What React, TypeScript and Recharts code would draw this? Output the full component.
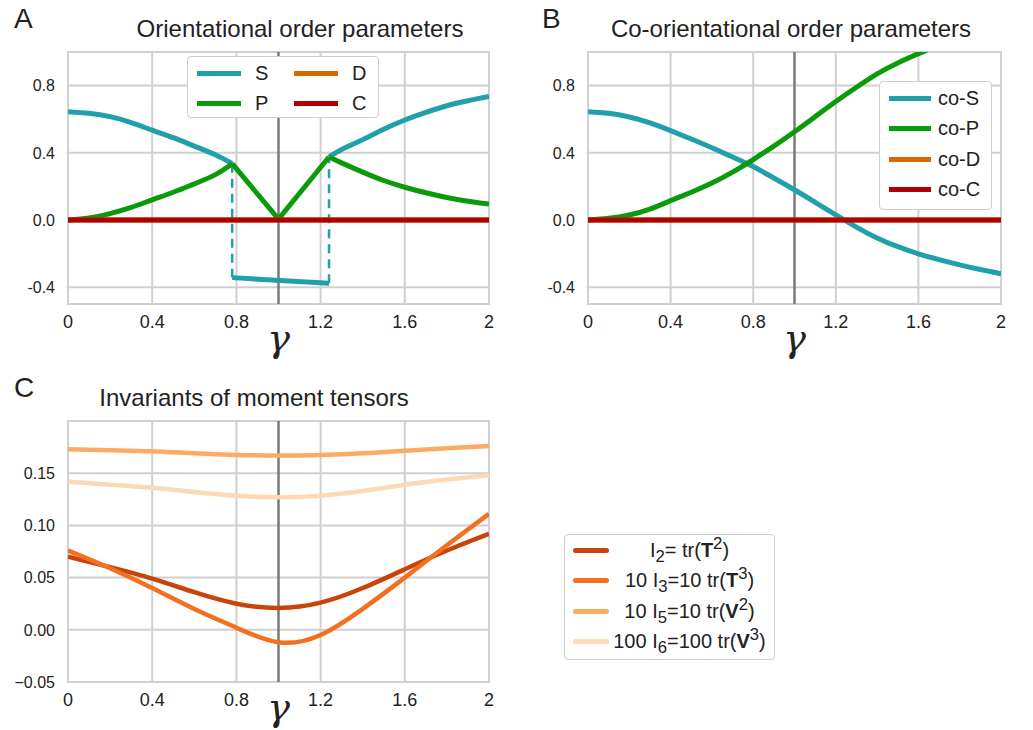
import React from 'react';
import {
  LineChart, Line, XAxis, YAxis, CartesianGrid, ReferenceLine, ReferenceArea, Legend,
} from 'recharts';

const FONT = '"Liberation Sans", Arial, Helvetica, sans-serif';
const GRID = '#d0d0d0';
const TEXT = '#222222';

const gammaTicks = [0, 0.4, 0.8, 1.2, 1.6, 2];
const orderTicks = [-0.4, 0, 0.4, 0.8];
const invariantTicks = [-0.05, 0, 0.05, 0.1, 0.15];

// A: orientational order parameters (S jumps at the two transitions)
const leftGamma = [0, 0.1, 0.2, 0.3, 0.4, 0.5, 0.6, 0.7, 0.78];
const sLeft = [0.645, 0.635, 0.615, 0.58, 0.535, 0.49, 0.44, 0.388, 0.335];
const pLeft = [0, 0.012, 0.038, 0.075, 0.12, 0.165, 0.215, 0.27, 0.335];
const midGamma = [0.78, 1.24];
const sMid = [-0.343, -0.377];
const pVGamma = [0.78, 1.0, 1.24];
const pV = [0.335, 0.005, 0.375];
const rightGamma = [1.24, 1.3, 1.4, 1.5, 1.6, 1.7, 1.8, 1.9, 2.0];
const sRight = [0.375, 0.42, 0.478, 0.54, 0.595, 0.64, 0.68, 0.71, 0.735];
const pRight = [0.375, 0.34, 0.285, 0.235, 0.195, 0.162, 0.134, 0.112, 0.095];
const jumpLeftGamma = [0.78, 0.78];
const jumpLeft = [0.335, -0.343];
const jumpRightGamma = [1.24, 1.24];
const jumpRight = [-0.377, 0.375];
const flatGamma = [0, 2];
const dOrder = [0, 0];
const cOrder = [0, 0];
const orderNames = ['S', 'P', 'D', 'C'];

// B: co-orientational order parameters
const gammaFine = [0, 0.1, 0.2, 0.3, 0.4, 0.5, 0.6, 0.7, 0.8, 0.9, 1.0, 1.1, 1.2, 1.3, 1.4, 1.5, 1.6, 1.7, 1.8, 1.9, 2.0];
const coS = [0.645, 0.635, 0.613, 0.578, 0.532, 0.482, 0.43, 0.375, 0.318, 0.25, 0.18, 0.105, 0.03, -0.042, -0.107, -0.159, -0.201, -0.236, -0.267, -0.295, -0.32];
const coP = [0, 0.01, 0.03, 0.065, 0.115, 0.165, 0.22, 0.285, 0.36, 0.44, 0.525, 0.615, 0.705, 0.79, 0.87, 0.935, 0.99, 1.04, 1.08, 1.11, 1.13];
const coD = [0, 0];
const coC = [0, 0];
const coNames = ['co-S', 'co-P', 'co-D', 'co-C'];

// C: invariants of moment tensors
const gammaC = [0, 0.2, 0.4, 0.6, 0.8, 1.0, 1.2, 1.4, 1.6, 1.8, 2.0];
const inv2 = [0.07, 0.06, 0.049, 0.036, 0.025, 0.021, 0.026, 0.04, 0.058, 0.076, 0.092];
const inv3 = [0.076, 0.059, 0.04, 0.02, 0.002, -0.012, -0.005, 0.02, 0.05, 0.081, 0.111];
const inv5 = [0.173, 0.172, 0.171, 0.169, 0.1675, 0.167, 0.1675, 0.169, 0.1715, 0.174, 0.176];
const inv6 = [0.142, 0.139, 0.136, 0.132, 0.1285, 0.127, 0.1285, 0.133, 0.139, 0.144, 0.148];
const invNames = ['I2', 'I3', 'I5', 'I6'];

const COLORS = {
  s: '#20a0aa',
  p: '#0a9a0a',
  d: '#d46a00',
  c: '#b00000',
  i2: '#c8440a',
  i3: '#f2701e',
  i5: '#fdaa64',
  i6: '#fddab4',
};

const pts = (xs: number[], ys: number[]) => xs.map((x, i) => ({ x, y: ys[i] }));

const invariantLabels = [
  <>I<sub>2</sub>= tr(<b>T</b><sup>2</sup>)</>,
  <>10 I<sub>3</sub>=10 tr(<b>T</b><sup>3</sup>)</>,
  <>10 I<sub>5</sub>=10 tr(<b>V</b><sup>2</sup>)</>,
  <>100 I<sub>6</sub>=100 tr(<b>V</b><sup>3</sup>)</>,
];

function GammaLabel({ viewBox, baseline }: any) {
  if (!viewBox) return null;
  const { x, y, width } = viewBox;
  return (
    <text x={x + width / 2} y={y + baseline} textAnchor="middle"
      fontFamily='"DejaVu Serif", "Liberation Serif", serif' fontStyle="italic" fontSize={38} fill={TEXT}>
      γ
    </text>
  );
}

function XTick({ x, y, payload }: any) {
  return (
    <text x={x} y={y} dy="0.71em" textAnchor="middle" fontFamily={FONT} fontSize={18} fill={TEXT}>
      {String(payload.value)}
    </text>
  );
}

function YTick({ x, y, payload, fmt }: any) {
  return (
    <text x={x} y={y} dy="0.36em" textAnchor="end" fontFamily={FONT} fontSize={16} fill={TEXT}>
      {fmt(payload.value)}
    </text>
  );
}

const legendBox: React.CSSProperties = {
  boxSizing: 'border-box',
  background: '#fff',
  border: '1px solid #cfcfcf',
  borderRadius: 4,
  fontFamily: FONT,
  fontSize: 20,
  color: TEXT,
};

const ordered = (payload: any[], names: string[]) =>
  (payload || [])
    .filter((p: any) => p.type !== 'none' && names.includes(p.value))
    .sort((a: any, b: any) => names.indexOf(a.value) - names.indexOf(b.value));

function OrderLegend({ payload }: any) {
  const items = ordered(payload, orderNames);
  return (
    <div style={{ ...legendBox, width: 192, height: 62, padding: '1px 0 0 9px', display: 'grid',
      gridTemplateRows: 'repeat(2, 30px)', gridTemplateColumns: '97px 80px', gridAutoFlow: 'column' }}>
      {items.map((p: any) => (
        <div key={p.value} style={{ display: 'flex', alignItems: 'center' }}>
          <span style={{ width: 44, height: 5, background: p.color, marginRight: 14 }} />
          <span>{p.value}</span>
        </div>
      ))}
    </div>
  );
}

function CoLegend({ payload }: any) {
  const items = ordered(payload, coNames);
  return (
    <div style={{ ...legendBox, width: 113, height: 129, padding: '1px 0 0 9px' }}>
      {items.map((p: any) => (
        <div key={p.value} style={{ display: 'flex', alignItems: 'center', height: 30.5 }}>
          <span style={{ width: 42, height: 5, background: p.color, marginRight: 7 }} />
          <span>{p.value}</span>
        </div>
      ))}
    </div>
  );
}

function InvariantLegend({ payload }: any) {
  const items = ordered(payload, invNames);
  return (
    <div style={{ ...legendBox, width: 211, height: 126, padding: '0 4px 0 8px' }}>
      {items.map((p: any, i: number) => (
        <div key={p.value} style={{ display: 'flex', alignItems: 'center', height: 30.5 }}>
          <span style={{ width: 36, height: 5, borderRadius: 3, background: p.color, flex: 'none' }} />
          <span style={{ flex: 1, textAlign: 'center', whiteSpace: 'nowrap', lineHeight: '20px' }}>
            {invariantLabels[i]}
          </span>
        </div>
      ))}
    </div>
  );
}

const xAxisProps = (baseline: number) => ({
  type: 'number' as const,
  dataKey: 'x',
  domain: [0, 2],
  ticks: gammaTicks,
  interval: 0 as const,
  allowDataOverflow: true,
  axisLine: false,
  tickLine: false,
  tickSize: 0,
  tickMargin: 11,
  height: 40,
  tick: <XTick />,
  label: <GammaLabel baseline={baseline} />,
});

const yAxisProps = (domain: number[], ticks: number[], fmt: (v: number) => string) => ({
  type: 'number' as const,
  domain,
  ticks,
  interval: 0 as const,
  allowDataOverflow: true,
  axisLine: false,
  tickLine: false,
  tickSize: 0,
  tickMargin: 13,
  width: 60,
  tick: <YTick fmt={fmt} />,
});

const orderFmt = (v: number) => v.toFixed(1);
const invFmt = (v: number) => v.toFixed(2).replace('-', '\u2212');

const heading = (text: string, left: number, top: number, size: number, center = true): React.ReactNode => (
  <div style={{
    position: 'absolute', left, top, fontFamily: FONT, fontSize: size, lineHeight: `${size}px`,
    color: TEXT, whiteSpace: 'nowrap', transform: center ? 'translateX(-50%)' : undefined,
  }}>{text}</div>
);

const lineBase = { dot: false, activeDot: false, isAnimationActive: false, dataKey: 'y' };

export default function App() {
  return (
    <div style={{ position: 'absolute', left: 0, top: 0, width: 1033, height: 730, background: '#fff', overflow: 'hidden' }}>
      {heading('A', 14, 5, 28, false)}
      {heading('B', 542, 5, 28, false)}
      {heading('C', 14, 374, 28, false)}
      {heading('Orientational order parameters', 300, 17, 24)}
      {heading('Co-orientational order parameters', 791, 17, 24)}
      {heading('Invariants of moment tensors', 254, 386, 24)}

      <div style={{ position: 'absolute', left: 0, top: 0 }}>
        <LineChart width={500} height={370} margin={{ top: 52, right: 11, bottom: 26, left: 8 }}>
          <CartesianGrid stroke={GRID} strokeWidth={2} />
          <XAxis {...xAxisProps(47)} />
          <YAxis {...yAxisProps([-0.5, 1], orderTicks, orderFmt)} />
          <ReferenceArea x1={0} x2={2} y1={-0.5} y2={1} fill="none" stroke={GRID} strokeWidth={2} />
          <ReferenceLine x={1} stroke="#7a7a7a" strokeWidth={2.5} />
          <Line {...lineBase} data={pts(jumpLeftGamma, jumpLeft)} type="linear" stroke={COLORS.s} strokeWidth={2.5} strokeDasharray="9 6" legendType="none" />
          <Line {...lineBase} data={pts(jumpRightGamma, jumpRight)} type="linear" stroke={COLORS.s} strokeWidth={2.5} strokeDasharray="9 6" legendType="none" />
          <Line {...lineBase} data={pts(leftGamma, sLeft)} type="natural" stroke={COLORS.s} strokeWidth={5} name="S" />
          <Line {...lineBase} data={pts(midGamma, sMid)} type="linear" stroke={COLORS.s} strokeWidth={5} legendType="none" />
          <Line {...lineBase} data={pts(rightGamma, sRight)} type="natural" stroke={COLORS.s} strokeWidth={5} legendType="none" />
          <Line {...lineBase} data={pts(leftGamma, pLeft)} type="natural" stroke={COLORS.p} strokeWidth={5} name="P" />
          <Line {...lineBase} data={pts(pVGamma, pV)} type="linear" stroke={COLORS.p} strokeWidth={5} legendType="none" />
          <Line {...lineBase} data={pts(rightGamma, pRight)} type="natural" stroke={COLORS.p} strokeWidth={5} legendType="none" />
          <Line {...lineBase} data={pts(flatGamma, dOrder)} type="linear" stroke={COLORS.d} strokeWidth={5} name="D" />
          <Line {...lineBase} data={pts(flatGamma, cOrder)} type="linear" stroke={COLORS.c} strokeWidth={5} name="C" />
          <Legend layout="vertical" align="center" verticalAlign="middle" content={(p: any) => <OrderLegend {...p} />}
            wrapperStyle={{ left: 187, top: 56, width: 192, height: 62 }} />
        </LineChart>
      </div>

      <div style={{ position: 'absolute', left: 500, top: 0 }}>
        <LineChart width={533} height={370} margin={{ top: 52, right: 32, bottom: 26, left: 28 }}>
          <CartesianGrid stroke={GRID} strokeWidth={2} />
          <XAxis {...xAxisProps(47)} />
          <YAxis {...yAxisProps([-0.5, 1], orderTicks, orderFmt)} />
          <ReferenceArea x1={0} x2={2} y1={-0.5} y2={1} fill="none" stroke={GRID} strokeWidth={2} />
          <ReferenceLine x={1} stroke="#7a7a7a" strokeWidth={2.5} />
          <Line {...lineBase} data={pts(gammaFine, coS)} type="natural" stroke={COLORS.s} strokeWidth={5} name="co-S" />
          <Line {...lineBase} data={pts(gammaFine, coP)} type="natural" stroke={COLORS.p} strokeWidth={5} name="co-P" />
          <Line {...lineBase} data={pts(flatGamma, coD)} type="linear" stroke={COLORS.d} strokeWidth={5} name="co-D" />
          <Line {...lineBase} data={pts(flatGamma, coC)} type="linear" stroke={COLORS.c} strokeWidth={5} name="co-C" />
          <Legend layout="vertical" align="center" verticalAlign="middle" content={(p: any) => <CoLegend {...p} />}
            wrapperStyle={{ left: 379, top: 81, width: 113, height: 129 }} />
        </LineChart>
      </div>

      <div style={{ position: 'absolute', left: 0, top: 360 }}>
        <LineChart width={800} height={370} margin={{ top: 61, right: 311, bottom: 8, left: 8 }}>
          <CartesianGrid stroke={GRID} strokeWidth={2} />
          <XAxis {...xAxisProps(38)} />
          <YAxis {...yAxisProps([-0.05, 0.2], invariantTicks, invFmt)} />
          <ReferenceArea x1={0} x2={2} y1={-0.05} y2={0.2} fill="none" stroke={GRID} strokeWidth={2} />
          <ReferenceLine x={1} stroke="#7a7a7a" strokeWidth={2.5} />
          <Line {...lineBase} data={pts(gammaC, inv2)} type="natural" stroke={COLORS.i2} strokeWidth={4.5} name="I2" />
          <Line {...lineBase} data={pts(gammaC, inv3)} type="natural" stroke={COLORS.i3} strokeWidth={4.5} name="I3" />
          <Line {...lineBase} data={pts(gammaC, inv5)} type="natural" stroke={COLORS.i5} strokeWidth={4.5} name="I5" />
          <Line {...lineBase} data={pts(gammaC, inv6)} type="natural" stroke={COLORS.i6} strokeWidth={4.5} name="I6" />
          <Legend layout="vertical" align="center" verticalAlign="middle" content={(p: any) => <InvariantLegend {...p} />}
            wrapperStyle={{ left: 564, top: 174, width: 211, height: 126 }} />
        </LineChart>
      </div>
    </div>
  );
}
